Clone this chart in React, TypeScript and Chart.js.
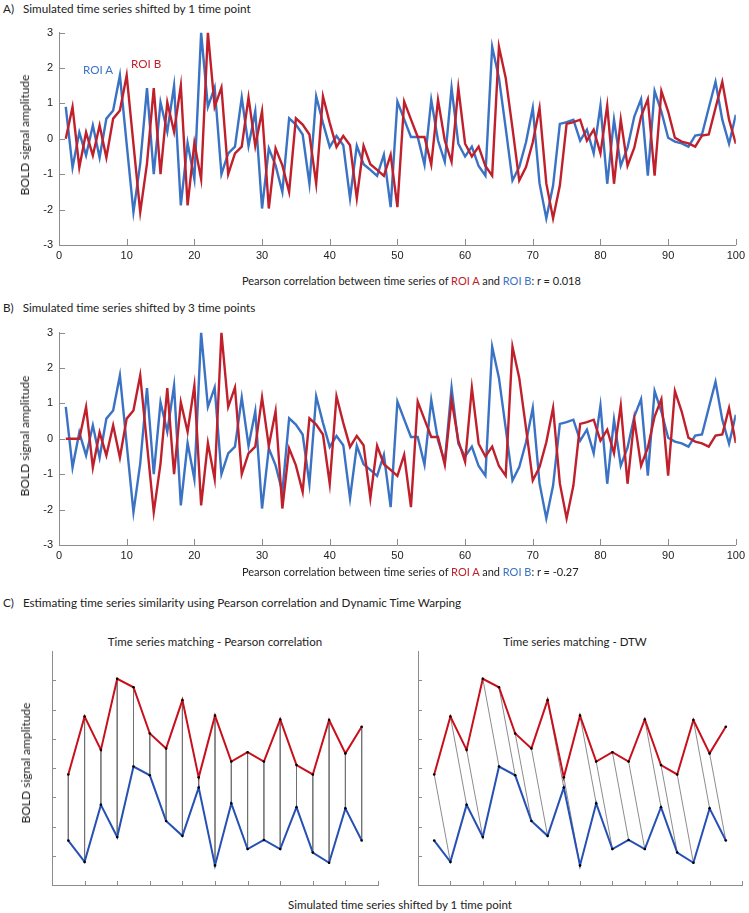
import React, { useEffect, useRef } from "react";
import { Chart, registerables } from "chart.js";

Chart.register(...registerables);

// ---------- Data ----------
const timePoints = Array.from({ length: 100 }, (_, i) => i + 1);

// ROI A (blue) simulated BOLD series
const roiA = [
  0.9, -0.81, 0.18, -0.47, 0.38, -0.53, 0.57, 0.8, 1.79, -0.15,
  -2.07, -0.7, 1.43, -1.0, 1.03, 0.2, 1.5, -1.88, -0.12, -1.14,
  3.0, 0.9, 1.45, -1.0, -0.41, -0.22, 1.17, -0.2, 0.78, -1.97,
  -0.27, -0.75, -1.5, 0.58, 0.4, 0.12, -1.27, 1.2, 0.45, -0.23,
  0.08, -0.18, -1.68, -0.2, -0.72, -0.88, -1.05, -0.45, -1.93, 1.05,
  0.55, 0.05, 0.05, -0.73, 1.1, -0.05, -0.65, 1.44, -0.14, -0.5,
  -0.22, -0.77, -1.04, 2.6, 1.72, 0.3, -1.18, -0.8, -0.1, 0.87,
  -1.26, -2.25, -1.32, 0.42, 0.47, 0.54, -0.05, 0.26, -0.41, 0.94,
  -1.27, 0.54, -0.76, -0.25, 0.63, 1.12, -1.04, 1.35, 0.77, 0.03,
  -0.08, -0.13, -0.22, 0.09, 0.12, 0.87, 1.61, 0.54, -0.14, 0.68,
];

// ROI B (red), panel A: shifted by 1 time point
const roiBShift1 = [
  0, 0.9, -0.81, 0.18, -0.47, 0.38, -0.53, 0.57, 0.8, 1.79,
  -0.15, -2.07, -0.7, 1.43, -1.0, 1.03, 0.2, 1.5, -1.88, -0.12,
  -1.14, 3.0, 0.9, 1.45, -1.0, -0.41, -0.22, 1.17, -0.2, 0.78,
  -1.97, -0.27, -0.75, -1.5, 0.58, 0.4, 0.12, -1.27, 1.2, 0.45,
  -0.23, 0.08, -0.18, -1.68, -0.2, -0.72, -0.88, -1.05, -0.45, -1.93,
  1.05, 0.55, 0.05, 0.05, -0.73, 1.1, -0.05, -0.65, 1.44, -0.14,
  -0.5, -0.22, -0.77, -1.04, 2.6, 1.72, 0.3, -1.18, -0.8, -0.1,
  0.87, -1.26, -2.25, -1.32, 0.42, 0.47, 0.54, -0.05, 0.26, -0.41,
  0.94, -1.27, 0.54, -0.76, -0.25, 0.63, 1.12, -1.04, 1.35, 0.77,
  0.03, -0.08, -0.13, -0.22, 0.09, 0.12, 0.87, 1.61, 0.54, -0.14,
];

// ROI B (red), panel B: shifted by 3 time points
const roiBShift3 = [
  0, 0, 0, 0.9, -0.81, 0.18, -0.47, 0.38, -0.53, 0.57,
  0.8, 1.79, -0.15, -2.07, -0.7, 1.43, -1.0, 1.03, 0.2, 1.5,
  -1.88, -0.12, -1.14, 3.0, 0.9, 1.45, -1.0, -0.41, -0.22, 1.17,
  -0.2, 0.78, -1.97, -0.27, -0.75, -1.5, 0.58, 0.4, 0.12, -1.27,
  1.2, 0.45, -0.23, 0.08, -0.18, -1.68, -0.2, -0.72, -0.88, -1.05,
  -0.45, -1.93, 1.05, 0.55, 0.05, 0.05, -0.73, 1.1, -0.05, -0.65,
  1.44, -0.14, -0.5, -0.22, -0.77, -1.04, 2.6, 1.72, 0.3, -1.18,
  -0.8, -0.1, 0.87, -1.26, -2.25, -1.32, 0.42, 0.47, 0.54, -0.05,
  0.26, -0.41, 0.94, -1.27, 0.54, -0.76, -0.25, 0.63, 1.12, -1.04,
  1.35, 0.77, 0.03, -0.08, -0.13, -0.22, 0.09, 0.12, 0.87, -0.12,
];

const xTickValuesAB = [0, 10, 20, 30, 40, 50, 60, 70, 80, 90, 100];
const yTickValuesAB = [-3, -2, -1, 0, 1, 2, 3];

// Panel C schematic series
const cTimes = [0.5, 1, 1.5, 2, 2.5, 3, 3.5, 4, 4.5, 5, 5.5, 6, 6.5, 7, 7.5, 8, 8.5, 9, 9.5];
const cSeriesRed = [3.78, 5.76, 4.62, 7.05, 6.76, 5.18, 4.67, 6.32, 3.68, 5.79, 4.22, 4.54, 4.22, 5.66, 4.1, 3.78, 5.64, 4.5, 5.41];
const cSeriesBlue = [1.52, 0.79, 2.74, 1.64, 4.05, 3.75, 2.19, 1.68, 3.33, 0.67, 2.79, 1.23, 1.54, 1.23, 2.66, 1.11, 0.76, 2.62, 1.52];
// index pairs [red index, blue index]
const pearsonMatches = cTimes.map((_, i) => [i, i]);
const dtwMatches = [
  [0, 1], [1, 2], [2, 3], [3, 4], [4, 5], [5, 6], [6, 7], [7, 8], [8, 9],
  [9, 10], [10, 11], [11, 12], [12, 13], [13, 14], [14, 15], [15, 16], [16, 17], [17, 18],
];
const xTickValuesC = [1, 2, 3, 4, 5, 6, 7, 8, 9, 10];
const yTickValuesC = [1, 2, 3, 4, 5, 6, 7];

// ---------- Styles ----------
const BLUE = "#3a72c4";
const RED = "#c0202b";
const C_BLUE = "#2650b4";
const C_RED = "#c8101c";
const AXIS = "#8c8c8c";
const TEXT_FONT = "Lato, 'Open Sans', sans-serif";
const TICK_FONT = { family: "'Liberation Sans', Arial, sans-serif", size: 11 };

const inwardTicks = {
  id: "inwardTicks",
  beforeDatasetsDraw(chart: any, _args: any, opts: any) {
    const { ctx, chartArea } = chart;
    const len = opts.length ?? 5;
    const xs = chart.scales.x;
    const ys = chart.scales.y;
    ctx.save();
    ctx.strokeStyle = opts.color || AXIS;
    ctx.lineWidth = 1;
    ctx.beginPath();
    (xs.ticks || []).forEach((t: any) => {
      const px = Math.round(xs.getPixelForValue(t.value)) + 0.5;
      ctx.moveTo(px, chartArea.bottom);
      ctx.lineTo(px, chartArea.bottom - len);
    });
    (ys.ticks || []).forEach((t: any) => {
      const py = Math.round(ys.getPixelForValue(t.value)) + 0.5;
      ctx.moveTo(chartArea.left, py);
      ctx.lineTo(chartArea.left + len, py);
    });
    ctx.stroke();
    ctx.restore();
  },
};

function seriesConfig(red: number[], blue: number[]): any {
  return {
    type: "line",
    data: {
      datasets: [
        {
          label: "ROI B",
          data: timePoints.map((t, i) => ({ x: t, y: red[i] })),
          borderColor: RED,
          borderWidth: 2.4,
          pointRadius: 0,
          tension: 0,
          fill: false,
        },
        {
          label: "ROI A",
          data: timePoints.map((t, i) => ({ x: t, y: blue[i] })),
          borderColor: BLUE,
          borderWidth: 2.4,
          pointRadius: 0,
          tension: 0,
          fill: false,
        },
      ],
    },
    options: {
      responsive: false,
      animation: false,
      events: [],
      layout: { padding: { top: 10, right: 10, left: 0, bottom: 0 } },
      plugins: {
        legend: { display: false },
        tooltip: { enabled: false },
        inwardTicks: { length: 6 },
      },
      scales: {
        x: {
          type: "linear",
          min: 0,
          max: 100,
          afterFit: (s: any) => {
            s.height = 25;
          },
          afterBuildTicks: (s: any) => {
            s.ticks = xTickValuesAB.map((value) => ({ value }));
          },
          ticks: { font: TICK_FONT, color: "#222", padding: 4, maxRotation: 0, autoSkip: false },
          grid: { display: false, drawTicks: false },
          border: { display: true, color: AXIS, width: 1 },
        },
        y: {
          type: "linear",
          min: -3,
          max: 3,
          afterFit: (s: any) => {
            s.width = 59;
          },
          afterBuildTicks: (s: any) => {
            s.ticks = yTickValuesAB.map((value) => ({ value }));
          },
          ticks: { font: TICK_FONT, color: "#222", padding: 6 },
          grid: { display: false, drawTicks: false },
          border: { display: true, color: AXIS, width: 1 },
        },
      },
    },
    plugins: [inwardTicks],
  };
}

function matchingConfig(matches: number[][], yAxisWidth: number, rightPad: number): any {
  const connectors = matches.map(([ri, bi]) => ({
    data: [
      { x: cTimes[ri], y: cSeriesRed[ri] },
      { x: cTimes[bi], y: cSeriesBlue[bi] },
    ],
    borderColor: "#6e6e6e",
    borderWidth: 0.8,
    pointRadius: 0,
    tension: 0,
    fill: false,
    order: 2,
  }));
  return {
    type: "line",
    data: {
      datasets: [
        {
          label: "red",
          data: cTimes.map((t, i) => ({ x: t, y: cSeriesRed[i] })),
          borderColor: C_RED,
          borderWidth: 2,
          pointRadius: 1.3,
          pointBorderWidth: 0,
          pointBackgroundColor: "#000",
          tension: 0,
          fill: false,
          order: 0,
        },
        {
          label: "blue",
          data: cTimes.map((t, i) => ({ x: t, y: cSeriesBlue[i] })),
          borderColor: C_BLUE,
          borderWidth: 2,
          pointRadius: 1.3,
          pointBorderWidth: 0,
          pointBackgroundColor: "#000",
          tension: 0,
          fill: false,
          order: 0,
        },
        ...connectors,
      ],
    },
    options: {
      responsive: false,
      animation: false,
      events: [],
      layout: { padding: { top: 6, right: rightPad, left: 0, bottom: 0 } },
      plugins: {
        legend: { display: false },
        tooltip: { enabled: false },
        inwardTicks: { length: 4 },
      },
      scales: {
        x: {
          type: "linear",
          min: 0,
          max: 10,
          afterFit: (s: any) => {
            s.height = 10;
          },
          afterBuildTicks: (s: any) => {
            s.ticks = xTickValuesC.map((value) => ({ value }));
          },
          ticks: { display: false },
          grid: { display: false, drawTicks: false },
          border: { display: true, color: AXIS, width: 1 },
        },
        y: {
          type: "linear",
          min: 0,
          max: 8,
          afterFit: (s: any) => {
            s.width = yAxisWidth;
          },
          afterBuildTicks: (s: any) => {
            s.ticks = yTickValuesC.map((value) => ({ value }));
          },
          ticks: { display: false },
          grid: { display: false, drawTicks: false },
          border: { display: true, color: AXIS, width: 1 },
        },
      },
    },
    plugins: [inwardTicks],
  };
}

function ChartCanvas({ config, left, top, width, height }: any) {
  const ref = useRef<HTMLCanvasElement | null>(null);
  useEffect(() => {
    if (!ref.current) return;
    const chart = new Chart(ref.current, config);
    return () => chart.destroy();
  }, []);
  return (
    <canvas
      ref={ref}
      width={width}
      height={height}
      style={{ position: "absolute", left, top, width, height }}
    />
  );
}

function Label({ x, y, children, center, color, size }: any) {
  return (
    <div
      style={{
        position: "absolute",
        left: x,
        top: y,
        transform: center ? "translate(-50%, -50%)" : "translateY(-50%)",
        whiteSpace: "nowrap",
        lineHeight: 1,
        fontSize: size || 11.7,
        color: color || "#222",
      }}
    >
      {children}
    </div>
  );
}

function YTitle({ x, y }: any) {
  return (
    <div
      style={{
        position: "absolute",
        left: x,
        top: y,
        transform: "translate(-50%, -50%) rotate(-90deg)",
        whiteSpace: "nowrap",
        lineHeight: 1,
        fontSize: 12,
        color: "#222",
      }}
    >
      BOLD signal amplitude
    </div>
  );
}

export default function App() {
  return (
    <div
      style={{
        position: "absolute",
        left: 0,
        top: 0,
        width: 749,
        height: 913,
        background: "#fff",
        overflow: "hidden",
        fontFamily: TEXT_FONT,
      }}
    >
      <Label x={3} y={9}>A)&nbsp;&nbsp;&nbsp;Simulated time series shifted by 1 time point</Label>
      <ChartCanvas config={seriesConfig(roiBShift1, roiA)} left={0} top={20} width={749} height={250} />
      <Label x={83} y={70} color={BLUE} size={11.6}>ROI A</Label>
      <Label x={131} y={64} color={RED} size={11.6}>ROI B</Label>
      <YTitle x={25} y={135} />
      <Label x={242} y={280} size={11}>
        Pearson correlation between time series of <span style={{ color: RED }}>ROI A</span> and{" "}
        <span style={{ color: BLUE }}>ROI B</span>: r = 0.018
      </Label>

      <Label x={3} y={308}>B)&nbsp;&nbsp;&nbsp;Simulated time series shifted by 3 time points</Label>
      <ChartCanvas config={seriesConfig(roiBShift3, roiA)} left={0} top={320} width={749} height={250} />
      <YTitle x={25} y={436} />
      <Label x={242} y={571} size={11}>
        Pearson correlation between time series of <span style={{ color: RED }}>ROI A</span> and{" "}
        <span style={{ color: BLUE }}>ROI B</span>: r = -0.27
      </Label>

      <Label x={3} y={603}>
        C)&nbsp;&nbsp;&nbsp;Estimating time series similarity using Pearson correlation and Dynamic Time Warping
      </Label>
      <Label x={215} y={642} center size={11.5}>Time series matching - Pearson correlation</Label>
      <Label x={575} y={642} center size={11.5}>Time series matching - DTW</Label>
      <ChartCanvas config={matchingConfig(pearsonMatches, 52, 12)} left={0} top={645} width={390} height={250} />
      <ChartCanvas config={matchingConfig(dtwMatches, 28, 7)} left={390} top={645} width={359} height={250} />
      <YTitle x={26} y={763} />
      <Label x={400} y={905} center size={11.5}>Simulated time series shifted by 1 time point</Label>
    </div>
  );
}
